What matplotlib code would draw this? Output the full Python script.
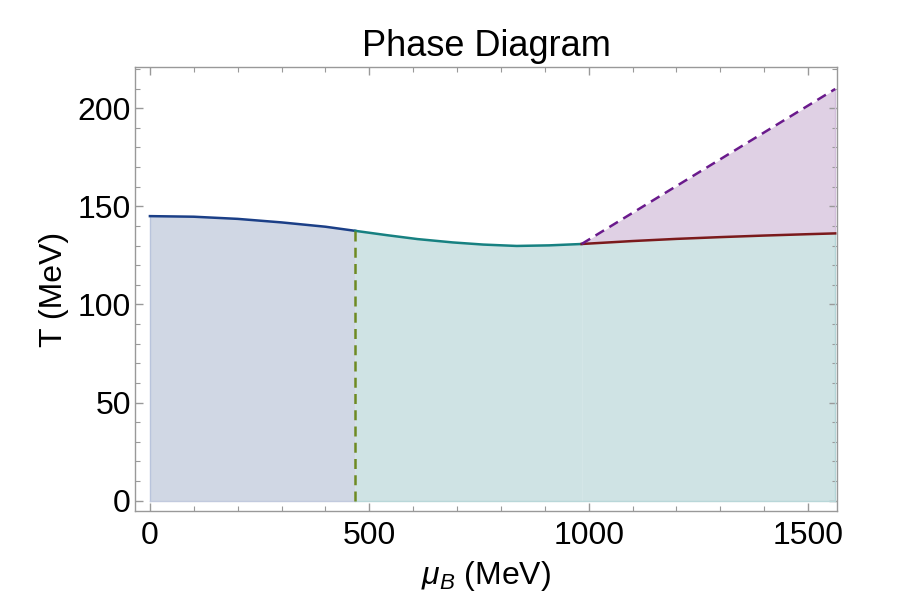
import numpy as np
import matplotlib
matplotlib.use("Agg")
import matplotlib.pyplot as plt

plt.rcParams['font.family'] = ['Liberation Sans', 'DejaVu Sans']
plt.rcParams['mathtext.fontset'] = 'custom'
plt.rcParams['mathtext.rm'] = 'Liberation Sans'
plt.rcParams['mathtext.it'] = 'Liberation Sans:italic'

# hadronic branch (mu_B < first transition)
mu_had = [0, 100, 200, 300, 400, 468]
T_had = [145.0, 144.7, 143.6, 141.8, 139.6, 137.5]
# intermediate branch
mu_mid = [468, 540, 610, 690, 760, 836, 910, 984]
T_mid = [137.5, 135.3, 133.3, 131.6, 130.5, 129.8, 130.1, 130.8]
# high density lower branch
mu_hi = [984, 1100, 1200, 1300, 1400, 1500, 1562]
T_hi = [130.8, 132.3, 133.4, 134.3, 135.1, 135.8, 136.2]
# upper dashed boundary
mu_up = [984, 1562]
T_up = [130.8, 209.8]
# vertical transition
mu_v = 468

fig = plt.figure(figsize=(8.97, 6.12), dpi=100)
ax = fig.add_axes([0.1505, 0.165, 0.7826, 0.7255])

ax.fill_between(mu_had, 0, T_had, color='#d0d7e4', lw=0)
ax.fill_between(mu_mid, 0, T_mid, color='#cfe3e4', lw=0)
ax.fill_between(mu_hi, 0, T_hi, color='#cfe3e4', lw=0)
T_up_i = np.interp(mu_hi, mu_up, T_up)
ax.fill_between(mu_hi, T_hi, T_up_i, color='#dfd0e4', lw=0)
# faint outer edges of the shaded regions
ax.plot([0, 0], [0, T_had[0]], color='#b9c4dc', lw=1)
ax.plot([0, mu_v], [0, 0], color='#c2cade', lw=1)
ax.plot([mu_v, mu_hi[-1]], [0, 0], color='#b9d7d9', lw=1)
ax.plot([mu_hi[-1], mu_hi[-1]], [0, T_hi[-1]], color='#b5d6d8', lw=1)
ax.plot([mu_hi[-1], mu_hi[-1]], [T_hi[-1], T_up[-1]], color='#d3bfdc', lw=1)

ax.plot(mu_had, T_had, color='#1b3f87', lw=1.8)
ax.plot(mu_mid, T_mid, color='#178181', lw=1.8)
ax.plot(mu_hi, T_hi, color='#7b1a1c', lw=1.8)
ax.plot(mu_up, T_up, color='#6a1a8c', lw=1.8, ls=(0, (4, 2.5)))
ax.plot([mu_v, mu_v], [0, T_had[-1]], color='#6e8a22', lw=1.8, ls=(0, (4, 2.5)))

ax.set_xlim(-34, 1566)
ax.set_ylim(-5.3, 221)
ax.set_xticks([0, 500, 1000, 1500])
ax.set_xticks(np.arange(0, 1600, 100), minor=True)
ax.set_yticks([0, 50, 100, 150, 200])
ax.set_yticks(np.arange(0, 221, 10), minor=True)

for s in ax.spines.values():
    s.set_color('#999999')
    s.set_linewidth(1.0)
ax.tick_params(which='both', direction='in', top=True, right=True,
               color='#999999', labelsize=23, labelcolor='black')
ax.tick_params(axis='x', pad=7)
ax.tick_params(axis='y', pad=3)
ax.tick_params(which='major', length=6, width=1)
ax.tick_params(which='minor', length=3.5, width=0.8)

ax.set_xlabel(r'$\mu_B$ (MeV)', fontsize=23, labelpad=6)
ax.set_ylabel('T (MeV)', fontsize=23, labelpad=6)
ax.set_title('Phase Diagram', fontsize=26, pad=8)

fig.savefig('out.png', dpi=100)
